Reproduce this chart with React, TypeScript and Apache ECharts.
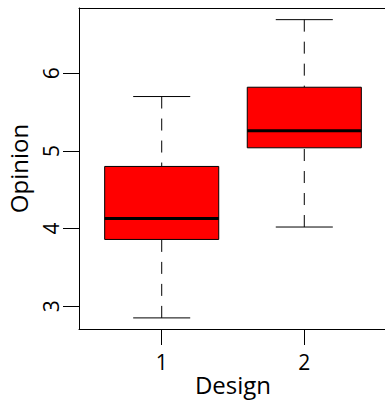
import React, { useEffect, useRef } from "react";
import * as echarts from "echarts";

const categories = ["1", "2"];
const positions = [1, 2];
const lowerWhisker = [2.85, 4.02];
const q1 = [3.86, 5.04];
const median = [4.13, 5.26];
const q3 = [4.8, 5.82];
const upperWhisker = [5.7, 6.69];
const yTicks = [3, 4, 5, 6];

const FONT = "Open Sans";

export default function App() {
  const ref = useRef<HTMLDivElement>(null);
  useEffect(() => {
    if (!ref.current) return;
    const chart = echarts.init(ref.current, null, { renderer: "svg" });
    const data = positions.map((p, i) => [p, lowerWhisker[i], q1[i], median[i], q3[i], upperWhisker[i]]);
    const halfBox = 0.4;
    const halfCap = 0.2;
    const axisLineStyle = { color: "#000", width: 1 };
    chart.setOption({
      animation: false,
      backgroundColor: "#fff",
      grid: { left: 79, top: 8, width: 308, height: 321, show: false, outerBoundsMode: "none", containLabel: false },
      xAxis: [
        {
          type: "value",
          min: 0.42,
          max: 2.58,
          name: "Design",
          nameLocation: "middle",
          nameGap: 55,
          nameMoveOverlap: false,
          nameTextStyle: { fontFamily: FONT, fontSize: 24, lineHeight: 24, verticalAlign: "middle", color: "#000" },
          axisLine: { show: true, lineStyle: axisLineStyle },
          splitLine: { show: false },
          axisTick: { show: true, customValues: positions, length: 16, lineStyle: axisLineStyle },
          axisLabel: {
            customValues: positions,
            margin: 22,
            fontFamily: FONT,
            fontSize: 21,
            color: "#000",
            formatter: (v: number) => categories[positions.indexOf(v)] ?? "",
          },
        },
        {
          type: "value",
          position: "top",
          min: 0.42,
          max: 2.58,
          axisLine: { show: true, lineStyle: axisLineStyle },
          axisTick: { show: false },
          axisLabel: { show: false },
          splitLine: { show: false },
        },
      ],
      yAxis: {
        type: "value",
        min: 2.707,
        max: 6.84,
        name: "Opinion",
        nameLocation: "middle",
        nameGap: 49,
        nameTextStyle: { fontFamily: FONT, fontSize: 24, color: "#000" },
        axisLine: { show: true, lineStyle: axisLineStyle },
        splitLine: { show: false },
        axisTick: { show: true, customValues: yTicks, length: 16, lineStyle: axisLineStyle },
        axisLabel: {
          customValues: yTicks,
          rotate: 90,
          margin: 18,
          fontFamily: FONT,
          fontSize: 21,
          color: "#000",
        },
      },
      series: [
        {
          type: "custom",
          data,
          xAxisIndex: 0,
          encode: { x: 0, y: [1, 2, 3, 4, 5] },
          renderItem: (params: any, api: any) => {
            const x = api.value(0);
            const lo = api.value(1);
            const a = api.value(2);
            const m = api.value(3);
            const b = api.value(4);
            const hi = api.value(5);
            const tl = api.coord([x - halfBox, b]);
            const br = api.coord([x + halfBox, a]);
            const c = api.coord([x, m]);
            const pLo = api.coord([x, lo]);
            const pHi = api.coord([x, hi]);
            const pA = api.coord([x, a]);
            const pB = api.coord([x, b]);
            const capL = api.coord([x - halfCap, lo]);
            const capR = api.coord([x + halfCap, lo]);
            const capL2 = api.coord([x - halfCap, hi]);
            const capR2 = api.coord([x + halfCap, hi]);
            const dash = { stroke: "#000", lineWidth: 1, lineDash: [12, 10] };
            const solid = { stroke: "#000", lineWidth: 1 };
            return {
              type: "group",
              children: [
                { type: "line", shape: { x1: pHi[0], y1: pHi[1], x2: pB[0], y2: pB[1] }, style: dash },
                { type: "line", shape: { x1: pLo[0], y1: pLo[1], x2: pA[0], y2: pA[1] }, style: dash },
                { type: "line", shape: { x1: capL[0], y1: capL[1], x2: capR[0], y2: capR[1] }, style: solid },
                { type: "line", shape: { x1: capL2[0], y1: capL2[1], x2: capR2[0], y2: capR2[1] }, style: solid },
                {
                  type: "rect",
                  shape: { x: tl[0], y: tl[1], width: br[0] - tl[0], height: br[1] - tl[1] },
                  style: { fill: "#ff0000", stroke: "#000", lineWidth: 1 },
                },
                {
                  type: "line",
                  shape: { x1: tl[0], y1: c[1], x2: br[0], y2: c[1] },
                  style: { stroke: "#000", lineWidth: 3 },
                },
              ],
            };
          },
        },
      ],
    });
    return () => chart.dispose();
  }, []);
  return <div ref={ref} style={{ position: "fixed", left: 0, top: 0, width: 385, height: 402 }} />;
}
